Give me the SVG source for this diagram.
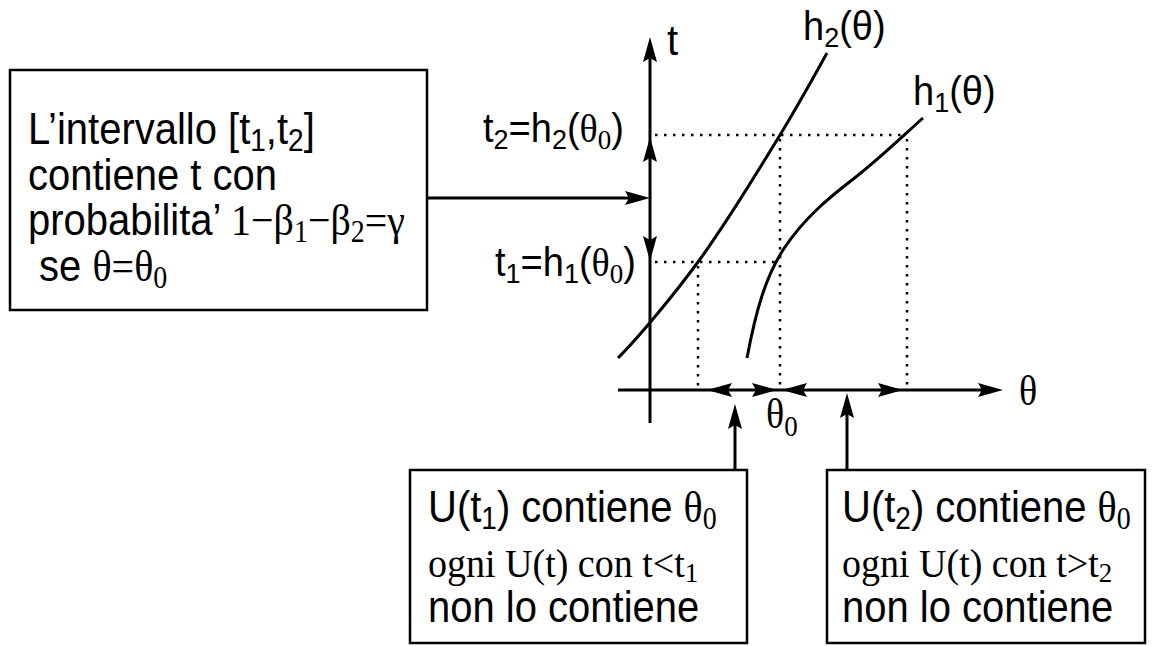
<svg xmlns="http://www.w3.org/2000/svg" xmlns:xlink="http://www.w3.org/1999/xlink" width="1160" height="646" viewBox="0 0 1160 646">
<style>
.sans{font-family:"Liberation Sans",Arial,sans-serif;fill:#000}
.serif{font-family:"Liberation Serif","Times New Roman",serif}
.box{fill:#fff;stroke:#000;stroke-width:2.5}
.ln{fill:none;stroke:#000;stroke-width:3}
.cv{fill:none;stroke:#000;stroke-width:3}
.dot{fill:none;stroke:#000;stroke-width:2.5;stroke-dasharray:2.5 6.5}
.t40{font-size:40px}
.t38{font-size:38px}
</style>
<defs>
<path id="ah" d="M0,0 L-25,-7 L-21,0 L-25,7 Z" fill="#000"/>
</defs>
<rect width="1160" height="646" fill="#fff"/>
<g id="connectors">
<line class="ln" x1="650" y1="423" x2="650" y2="45"/>
<line class="ln" x1="618" y1="390" x2="995" y2="390"/>
<use xlink:href="#ah" transform="translate(650,37) rotate(-90)"/>
<use xlink:href="#ah" transform="translate(1003,390)"/>
<use xlink:href="#ah" transform="translate(650,137) rotate(-90)"/>
<use xlink:href="#ah" transform="translate(650,261) rotate(90)"/>
<use xlink:href="#ah" transform="translate(707,390) rotate(180)"/>
<use xlink:href="#ah" transform="translate(777,390)"/>
<use xlink:href="#ah" transform="translate(782,390) rotate(180)"/>
<use xlink:href="#ah" transform="translate(903,390)"/>
<line class="ln" x1="427" y1="198" x2="630" y2="198"/>
<use xlink:href="#ah" transform="translate(650,198)"/>
<line class="ln" x1="735" y1="470" x2="735" y2="420"/>
<use xlink:href="#ah" transform="translate(735,404) rotate(-90)"/>
<line class="ln" x1="847" y1="470" x2="847" y2="410"/>
<use xlink:href="#ah" transform="translate(847,393) rotate(-90)"/>
<line class="dot" x1="655" y1="135" x2="907" y2="135"/>
<line class="dot" x1="655" y1="262" x2="780" y2="262"/>
<line class="dot" x1="698" y1="266" x2="698" y2="388"/>
<line class="dot" x1="780" y1="139" x2="780" y2="388"/>
<line class="dot" x1="907" y1="139" x2="907" y2="388"/>
</g>
<g id="curves">
<path class="cv" d="M618,358 C640,336 676,292 698,262 S760,168 780,135 S812,80 827,53"/>
<path class="cv" d="M747,358 C756,310 766,275 785,247 S826,200 852,180 S905,134 923,118"/>
</g>
<g id="labels">
<text class="sans t40" transform="translate(667,55) scale(1,1.05)">t</text>
<text class="sans t38" transform="translate(803,40) scale(1,1.05)">h<tspan font-size="27" dy="7">2</tspan><tspan dy="-7">(θ)</tspan></text>
<text class="sans t38" transform="translate(913,105) scale(1,1.05)">h<tspan font-size="27" dy="7">1</tspan><tspan dy="-7">(θ)</tspan></text>
<text class="sans t38" text-anchor="end" transform="translate(624,142) scale(1,1.05)">t<tspan font-size="27" dy="7">2</tspan><tspan dy="-7">=h</tspan><tspan font-size="27" dy="7">2</tspan><tspan dy="-7">(</tspan><tspan class="serif">θ</tspan><tspan class="serif" font-size="27" dy="7">0</tspan><tspan dy="-7">)</tspan></text>
<text class="sans t38" text-anchor="end" transform="translate(636,276) scale(1,1.05)">t<tspan font-size="27" dy="7">1</tspan><tspan dy="-7">=h</tspan><tspan font-size="27" dy="7">1</tspan><tspan dy="-7">(</tspan><tspan class="serif">θ</tspan><tspan class="serif" font-size="27" dy="7">0</tspan><tspan dy="-7">)</tspan></text>
<text class="serif" font-size="38" transform="translate(1019,405) scale(1,1.1)">θ</text>
<text class="serif" font-size="38" transform="translate(766,428) scale(1,1.1)">θ<tspan font-size="27" dy="7">0</tspan></text>
</g>
<g id="node-interval">
<rect class="box" x="10" y="70" width="417" height="240"/>
<text class="sans t40" transform="translate(28,144) scale(1,1.1)">L’intervallo [t<tspan font-size="28" dy="6">1</tspan><tspan dy="-6">,t</tspan><tspan font-size="28" dy="6">2</tspan><tspan dy="-6">]</tspan></text>
<text class="sans t40" transform="translate(28,190) scale(1,1.1)">contiene t con</text>
<text class="sans t40" transform="translate(28,235) scale(1,1.1)">probabilita’ <tspan class="serif">1−β</tspan><tspan class="serif" font-size="28" dy="6">1</tspan><tspan class="serif" dy="-6">−β</tspan><tspan class="serif" font-size="28" dy="6">2</tspan><tspan class="serif" dy="-6">=γ</tspan></text>
<text class="sans t40" transform="translate(28,281) scale(1,1.1)" xml:space="preserve"> se <tspan class="serif">θ=θ</tspan><tspan class="serif" font-size="28" dy="6">0</tspan></text>
</g>
<g id="node-u1">
<rect class="box" x="410" y="470" width="337" height="173"/>
<text class="sans t40" transform="translate(428,522) scale(1,1.1)">U(t<tspan font-size="28" dy="6">1</tspan><tspan dy="-6">) contiene </tspan><tspan class="serif">θ</tspan><tspan class="serif" font-size="28" dy="6">0</tspan></text>
<text class="serif t38" transform="translate(428,577) scale(1,1.05)">ogni U(t) con t&lt;t<tspan font-size="27" dy="5">1</tspan></text>
<text class="sans t40" transform="translate(428,622) scale(1,1.1)">non lo contiene</text>
</g>
<g id="node-u2">
<rect class="box" x="827" y="470" width="318" height="173"/>
<text class="sans t40" transform="translate(842,522) scale(1,1.1)">U(t<tspan font-size="28" dy="6">2</tspan><tspan dy="-6">) contiene </tspan><tspan class="serif">θ</tspan><tspan class="serif" font-size="28" dy="6">0</tspan></text>
<text class="serif t38" transform="translate(842,577) scale(1,1.05)">ogni U(t) con t&gt;t<tspan font-size="27" dy="5">2</tspan></text>
<text class="sans t40" transform="translate(842,622) scale(1,1.1)">non lo contiene</text>
</g>
</svg>
